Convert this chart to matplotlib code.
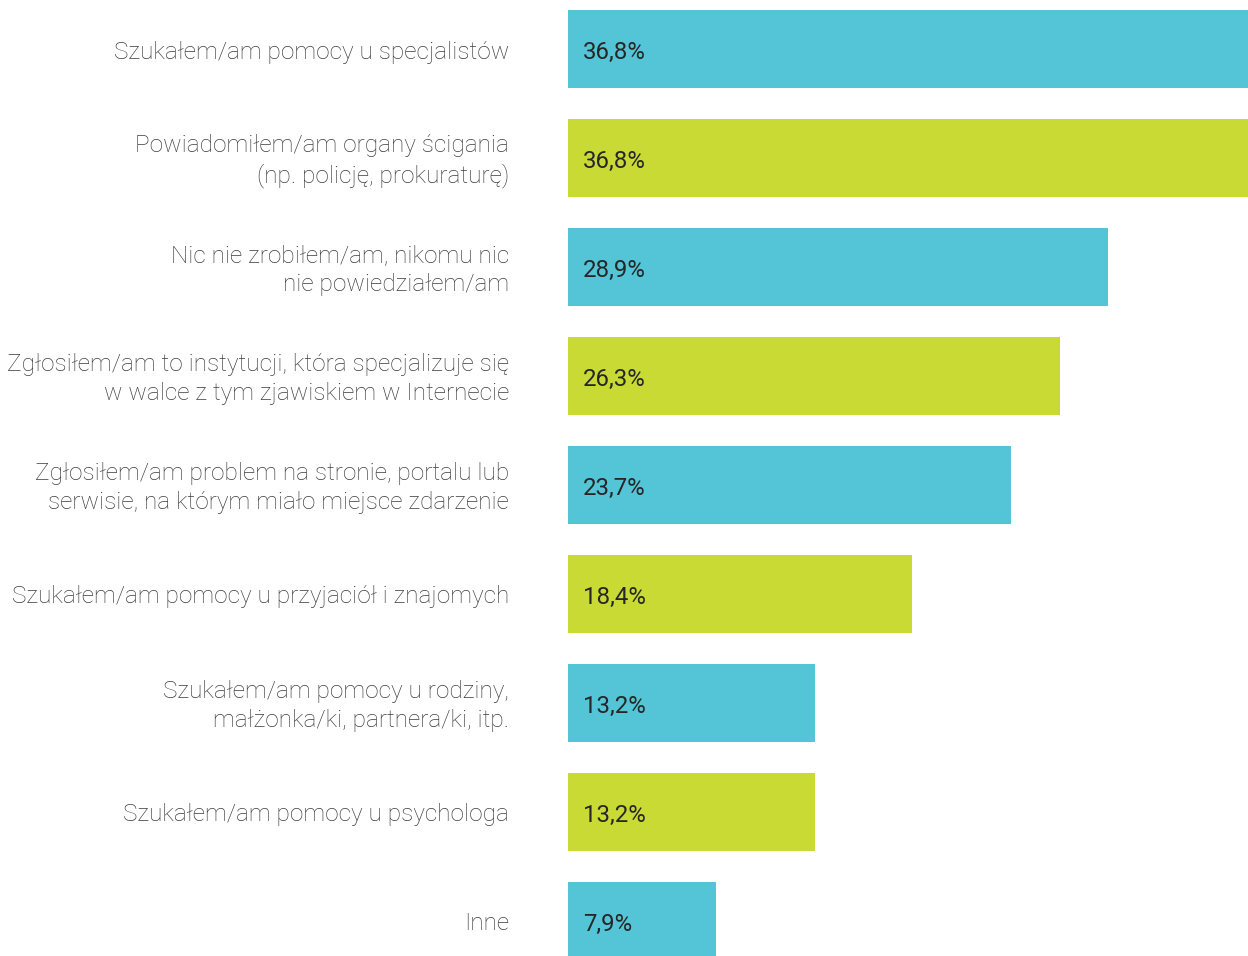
import numpy as np
from matplotlib import pyplot as plt

# data
labels = [
    "Szukałem/am pomocy u specjalistów",
    "Powiadomiłem/am organy ścigania\n(np. policję, prokuraturę)",
    "Nic nie zrobiłem/am, nikomu nic\nnie powiedziałem/am",
    "Zgłosiłem/am to instytucji, która specjalizuje się\nw walce z tym zjawiskiem w Internecie",
    "Zgłosiłem/am problem na stronie, portalu lub\nserwisie, na którym miało miejsce zdarzenie",
    "Szukałem/am pomocy u przyjaciół i znajomych",
    "Szukałem/am pomocy u rodziny,\nmałżonka/ki, partnera/ki, itp.",
    "Szukałem/am pomocy u psychologa",
    "Inne",
]
values = [36.8, 36.8, 28.9, 26.3, 23.7, 18.4, 13.2, 13.2, 7.9]
value_labels = ["36,8%", "36,8%", "28,9%", "26,3%", "23,7%", "18,4%", "13,2%", "13,2%", "7,9%"]

cyan = "#53c5d6"
lime = "#c9da35"
colors = [cyan if i % 2 == 0 else lime for i in range(len(values))]

W, H = 1248, 956
fig = plt.figure(figsize=(W / 100, H / 100), dpi=100)
ax = fig.add_axes([568 / W, 0, 680 / W, 1])

y = np.arange(len(values))
ax.barh(y, values, height=0.72, color=colors)

px_per_unit = 18.69
ax.set_xlim(0, 680 / px_per_unit)
ax.set_ylim((H - 49) / 109, -49 / 109)
ax.axis("off")

dy = 3 / 109
for i, (lab, vl) in enumerate(zip(labels, value_labels)):
    ax.text(15 / px_per_unit, i + dy, vl, va="center", ha="left",
            fontsize=17.3, color="#262626", family=["Roboto", "DejaVu Sans"])
    ax.text(-59 / px_per_unit, i + dy, lab, va="center", ha="right",
            fontsize=17.6, color="#3c3c3c", fontweight="light",
            linespacing=1.32, family=["Roboto", "DejaVu Sans"], clip_on=False)

fig.savefig("out.png", dpi=100)
